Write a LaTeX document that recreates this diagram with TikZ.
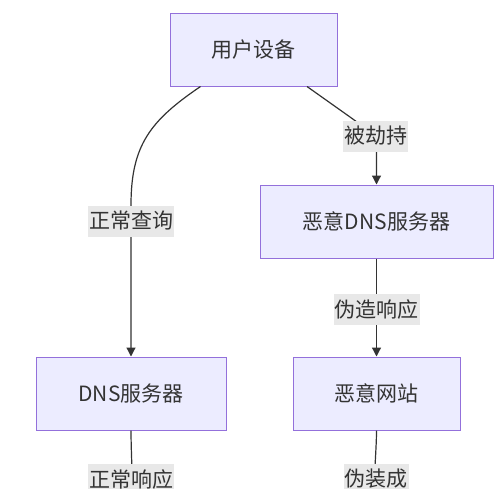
\documentclass[tikz,border=0pt]{standalone}
\usepackage{fontspec}
\setmainfont{Noto Sans CJK SC}
\usetikzlibrary{arrows.meta}
\definecolor{nodefill}{HTML}{ECECFF}
\definecolor{nodeline}{HTML}{9370DB}
\definecolor{edgeline}{HTML}{333333}
\definecolor{lblfill}{HTML}{E8E8E8}

\begin{document}
\begin{tikzpicture}[x=1pt,y=-1pt,
  box/.style={draw=nodeline,line width=1pt,fill=nodefill,text=edgeline,minimum height=73pt,inner sep=0pt,font=\fontsize{21}{25}\selectfont},
  arr/.style={-{Triangle[length=9pt,width=9pt]},line width=1.2pt,edgeline},
  conn/.style={line width=1.2pt,edgeline},
  lbl/.style={fill=lblfill,text=edgeline,inner xsep=1pt,inner ysep=0pt,minimum height=31pt,font=\fontsize{21}{25}\selectfont}]
  \clip (0,0) rectangle (500,488);
  \node[box,minimum width=167pt] (user) at (253.5,49.5) {用户设备};
  \node[box,minimum width=233pt] (mdns) at (376.5,221.5) {恶意DNS服务器};
  \node[box,minimum width=190pt] (dns) at (131,393.5) {DNS服务器};
  \node[box,minimum width=167pt] (site) at (376.5,393.5) {恶意网站};
  % bends and free ends
  \coordinate (qbend) at (131,205);
  \coordinate (hbend) at (350,117);
  \coordinate (hdown) at (376.5,152);
  \coordinate (dnsout) at (133,510);
  \coordinate (siteout) at (373,510);
  \draw[arr] ([xshift=-53pt]user.south) .. controls +(-50,34) and +(0,-60) .. (qbend) -- (dns.north);
  \draw[arr] ([xshift=53.5pt]user.south) -- (hbend) .. controls +(18,13) and +(0,-16) .. (hdown) -- (mdns.north);
  \draw[arr] (mdns) -- (site);
  \draw[conn] (dns.south) .. controls +(0,20) and +(0,-20) .. (dnsout);
  \draw[conn] (site.south) .. controls +(0,20) and +(0,-20) .. (siteout);
  % edge labels
  \node[lbl] (lq) at (131,221) {正常查询};
  \node[lbl] (lh) at (375.5,136) {被劫持};
  \node[lbl] (lf) at (376.5,309.5) {伪造响应};
  \node[lbl] (lr) at (131,479) {正常响应};
  \node[lbl] (ld) at (376,479) {伪装成};
\end{tikzpicture}
\end{document}
